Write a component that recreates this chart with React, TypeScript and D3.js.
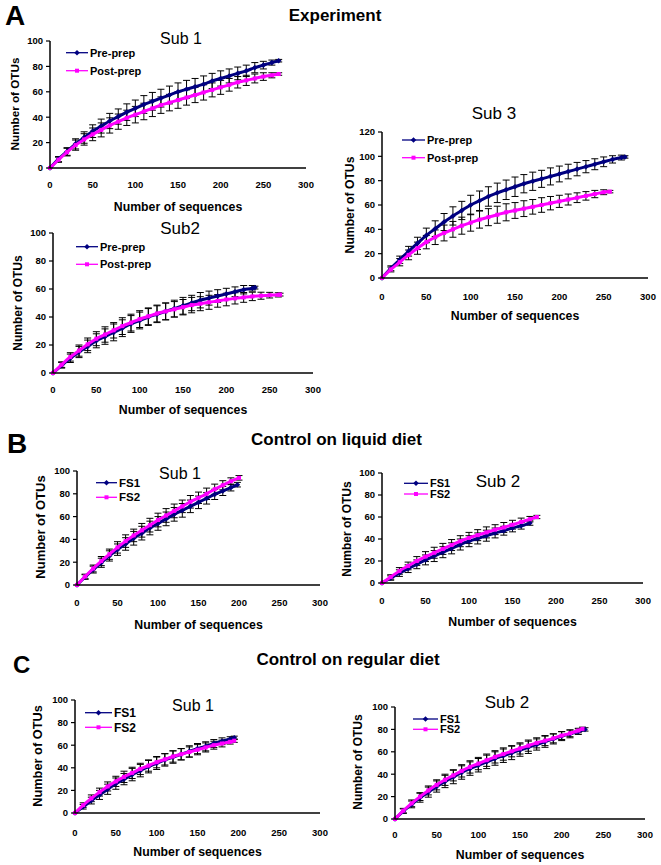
import React from "react";
import * as d3 from "d3";

// ---- shared categories / ticks ----
const seqSteps = [0, 10, 20, 30, 40, 50, 60, 70, 80, 90, 100, 110, 120, 130, 140, 150, 160, 170, 180, 190, 200, 210, 220, 230, 240, 250, 260, 270, 280, 290];
const xTicks = [0, 50, 100, 150, 200, 250, 300];
const yTicks100 = [0, 20, 40, 60, 80, 100];
const yTicks120 = [0, 20, 40, 60, 80, 100, 120];

// ---- A: Experiment ----
const a1PreY = [0, 7, 13, 19, 24, 29, 33, 37, 40.5, 44, 47, 50, 52.5, 55, 57.5, 60, 62, 64, 66, 68.5, 70.5, 72.5, 74.5, 76.5, 79, 81, 83, 84.5];
const a1PreErr = [0, 2, 3, 4, 4.5, 5, 5.5, 6, 6, 6.5, 6.5, 7, 7, 7, 7, 7, 7, 6.5, 6.5, 6, 6, 5.5, 5, 4.5, 4, 3, 2, 1];
const a1PostY = [0, 6.5, 12.5, 18, 22.5, 26.5, 30, 33.5, 36.5, 39.5, 42, 44.5, 47, 49.5, 51.5, 53.5, 55.5, 57.5, 59.5, 61.5, 63.5, 65.5, 67.5, 69, 70.5, 72, 73, 74];
const a1PostErr = [0, 2, 3, 4, 4.5, 5, 5.5, 6, 6, 6, 6.5, 6.5, 6.5, 6.5, 6.5, 6.5, 6, 6, 6, 5.5, 5.5, 5, 4.5, 4, 3.5, 3, 2, 1];
const a1PreEnd = 268;
const a1PostEnd = 268;

const a2PreY = [0, 5.5, 10.5, 15, 19, 23, 26, 29, 32, 35, 37.5, 40, 42, 44, 46, 48, 50, 52, 53.5, 55, 56.5, 58, 59.5, 60.5, 61];
const a2PreErr = [0, 2, 3, 4, 4.5, 5, 5.5, 6, 6, 6, 6, 6, 6, 6, 6, 6, 5.5, 5.5, 5, 4.5, 4, 3.5, 3, 2, 1];
const a2PostY = [0, 6, 11.5, 16, 20.5, 24.5, 27.5, 30.5, 33.5, 36, 38.5, 40.5, 42.5, 44, 45.5, 47, 48.5, 49.5, 50.5, 51.5, 52.5, 53.3, 54, 54.7, 55.2, 55.6, 55.8, 56];
const a2PostErr = [0, 2, 3, 4, 4.5, 5, 5.5, 5.5, 6, 6, 6, 6, 6, 6, 5.5, 5.5, 5.5, 5, 5, 4.5, 4.5, 4, 3.5, 3, 2.5, 2, 1.5, 1];
const a2PreEnd = 233;
const a2PostEnd = 262;

const a3PreY = [0, 8, 15, 22, 28.5, 35, 40.5, 46, 51, 55.5, 60, 63.5, 67, 70, 72.5, 75, 77.5, 79.5, 81.5, 83.5, 85.5, 87.5, 89.5, 91.5, 93.5, 95.5, 97.5, 99, 99.5];
const a3PreErr = [0, 2, 3, 4, 5, 6, 6.5, 7, 7.5, 7.5, 8, 8, 8, 8, 8, 8, 7.5, 7.5, 7, 7, 6.5, 6, 5.5, 5, 4.5, 4, 3, 2, 1];
const a3PostY = [0, 7, 13, 19, 24.5, 29.5, 33.5, 37, 40, 43, 45.5, 48, 50, 52, 54, 55.5, 57, 58.5, 60, 61.5, 63, 64.5, 66, 67.5, 69, 70.5, 71];
const a3PostErr = [0, 2, 3, 4, 5, 5.5, 6, 6.5, 6.5, 7, 7, 7, 7, 7, 7, 6.5, 6.5, 6, 6, 5.5, 5, 4.5, 4, 3.5, 3, 2, 1];
const a3PreEnd = 274;
const a3PostEnd = 257;

// ---- B: Control on liquid diet ----
const b1Fs1Y = [0, 7, 13.5, 19.5, 25.5, 31, 36, 41, 45.5, 50, 54, 58, 62, 65.5, 69, 72.5, 76, 79.5, 82.5, 85.5, 88];
const b1Fs1Err = [0, 2, 3, 4, 4.5, 5, 5.5, 6, 6, 6, 6, 6, 6, 6, 5.5, 5.5, 5, 4.5, 4, 3, 2];
const b1Fs2Y = [0, 7.5, 14.5, 21, 27, 33, 38.5, 43.5, 48, 52.5, 57, 61, 65, 69, 73, 76.5, 80, 84, 87.5, 91, 94];
const b1Fs2Err = [0, 2, 3, 4, 4.5, 5, 5.5, 5.5, 6, 6, 6, 6, 6, 5.5, 5.5, 5, 5, 4.5, 4, 3, 2];
const b1Fs1End = 198;
const b1Fs2End = 200;

const b2Fs1Y = [0, 4.5, 9, 13, 17, 21, 24.5, 28, 31.5, 35, 38, 40.5, 43, 45.5, 47.5, 50, 52, 54.5];
const b2Fs1Err = [0, 2, 3, 3.5, 4, 4.5, 5, 5, 5, 5, 5, 5, 5, 4.5, 4, 3.5, 3, 2];
const b2Fs2Y = [0, 5.5, 11, 15.5, 20, 24, 27.5, 31, 34.5, 38, 41, 43.5, 46, 48.5, 50.5, 53, 55.5, 58, 60];
const b2Fs2Err = [0, 2, 3, 3.5, 4, 4.5, 5, 5, 5, 5, 5, 5, 5, 4.5, 4.5, 4, 3.5, 2.5, 1.5];
const b2Fs1End = 170;
const b2Fs2End = 178;

// ---- C: Control on regular diet ----
const c1Fs1Y = [0, 5.5, 11, 16, 21, 26, 30, 34, 37.5, 41, 44, 47, 49.5, 52, 54.5, 57, 59, 61.5, 63.5, 65.5, 66.5];
const c1Fs1Err = [0, 2, 3, 4, 4.5, 5, 5, 5.5, 5.5, 5.5, 5.5, 5.5, 5.5, 5, 5, 4.5, 4, 3.5, 3, 2, 1.5];
const c1Fs2Y = [0, 7, 13, 18.5, 23.5, 28, 32, 35.5, 39, 42, 45, 47.5, 50, 52, 54, 56, 58, 60, 61.5, 63, 64];
const c1Fs2Err = [0, 2, 3, 3.5, 4, 4.5, 5, 5, 5, 5, 5, 5, 5, 5, 4.5, 4.5, 4, 3.5, 3, 2, 1.5];
const c1Fs1End = 195;
const c1Fs2End = 195;

const c2Fs1Y = [0, 7, 13, 19, 24, 29, 33.5, 37.5, 41.5, 45, 48, 51, 54, 56.5, 59, 61.5, 64, 66.5, 69, 71.5, 74, 76, 78, 80];
const c2Fs1Err = [0, 2, 3, 4, 4.5, 5, 5.5, 6, 6, 6, 6, 6, 6, 6, 6, 5.5, 5.5, 5, 5, 4.5, 4, 3.5, 2.5, 1.5];
const c2Fs2Y = [0, 7.5, 14, 20, 25.5, 30.5, 35, 39, 43, 46.5, 49.5, 52.5, 55.5, 58, 60.5, 63, 65.5, 68, 70, 72, 74.5, 76.5, 79, 80.5];
const c2Fs2Err = [0, 2, 3, 3.5, 4, 4.5, 5, 5, 5.5, 5.5, 5.5, 5.5, 5.5, 5.5, 5, 5, 5, 4.5, 4.5, 4, 3.5, 3, 2, 1.5];
const c2Fs1End = 228;
const c2Fs2End = 225;

const NAVY = "#000080";
const MAGENTA = "#ff00ff";
const FONT = "'Liberation Sans', Arial, sans-serif";

type Series = { ys: number[]; errs: number[]; end: number; kind: "d" | "s"; label: string };

type PanelCfg = {
  left: number; right: number; y0: number; yTop: number; yMax: number; yTicks: number[];
  title: string; titleX: number; titleY: number; titleSize: number;
  yLabX: number; yLabY: number; yLabSize: number;
  xLabY: number; tickY: number;
  legX: number; legW: number; legY1: number; legY2: number; legSize: number;
  series: Series[];
};

function pointsOf(s: Series) {
  return s.ys.map((y, i) => ({ x: i === s.ys.length - 1 ? s.end : seqSteps[i], y, e: s.errs[i] }));
}

function Marker({ kind, cx, cy, color }: { kind: "d" | "s"; cx: number; cy: number; color: string }) {
  if (kind === "d") {
    const r = 2.8;
    return <path d={`M${cx},${cy - r}L${cx + r},${cy}L${cx},${cy + r}L${cx - r},${cy}Z`} fill={color} />;
  }
  const h = 2;
  return <rect x={cx - h} y={cy - h} width={h * 2} height={h * 2} fill={color} />;
}

function Panel({ c }: { c: PanelCfg }) {
  const x = d3.scaleLinear().domain([0, 300]).range([c.left, c.right]);
  const y = d3.scaleLinear().domain([0, c.yMax]).range([c.y0, c.yTop]);
  const line = d3.line<{ x: number; y: number }>().x((d) => x(d.x)).y((d) => y(d.y)).curve(d3.curveMonotoneX);
  const colors = [NAVY, MAGENTA];
  return (
    <g>
      {/* error bars */}
      {c.series.map((s, si) => (
        <g key={"e" + si} stroke="#000" strokeWidth={1}>
          {pointsOf(s).filter((p) => p.e > 0).map((p, i) => {
            const px = x(p.x);
            const t = y(p.y + p.e);
            const b = y(p.y - p.e);
            return (
              <g key={i}>
                <line x1={px} x2={px} y1={t} y2={b} />
                <line x1={px - 3.5} x2={px + 3.5} y1={t} y2={t} />
                <line x1={px - 3.5} x2={px + 3.5} y1={b} y2={b} />
              </g>
            );
          })}
        </g>
      ))}
      {/* lines + markers */}
      {c.series.map((s, si) => {
        const pts = pointsOf(s);
        return (
          <g key={"l" + si}>
            <path d={line(pts) || ""} fill="none" stroke={colors[si]} strokeWidth={3} />
            {pts.map((p, i) => (
              <Marker key={i} kind={s.kind} cx={x(p.x)} cy={y(p.y)} color={colors[si]} />
            ))}
          </g>
        );
      })}
      {/* axes */}
      <line x1={c.left} x2={c.left} y1={c.yTop} y2={c.y0} stroke="#000" strokeWidth={1.5} />
      <line x1={c.left} x2={c.right} y1={c.y0} y2={c.y0} stroke="#000" strokeWidth={1.5} />
      {c.yTicks.map((t) => (
        <g key={t}>
          <line x1={c.left - 4} x2={c.left} y1={y(t)} y2={y(t)} stroke="#000" strokeWidth={1.2} />
          <text x={c.left - 7} y={y(t) + 3.4} textAnchor="end" fontSize={9.5} fontWeight="bold" fontFamily={FONT}>{t}</text>
        </g>
      ))}
      {xTicks.map((t) => (
        <text key={t} x={x(t)} y={c.tickY} textAnchor="middle" fontSize={9.5} fontWeight="bold" fontFamily={FONT}>{t}</text>
      ))}
      <text x={(c.left + c.right) / 2} y={c.xLabY} textAnchor="middle" fontSize={12.3} fontWeight="bold" fontFamily={FONT}>Number of sequences</text>
      <text transform={`translate(${c.yLabX},${c.yLabY}) rotate(-90)`} textAnchor="middle" dy="0.35em" fontSize={c.yLabSize} fontWeight="bold" fontFamily={FONT}>Number of OTUs</text>
      <text x={c.titleX} y={c.titleY} textAnchor="middle" fontSize={c.titleSize} fontFamily={FONT}>{c.title}</text>
      {/* legend */}
      {c.series.map((s, si) => {
        const ly = si === 0 ? c.legY1 : c.legY2;
        return (
          <g key={"g" + si}>
            <line x1={c.legX} x2={c.legX + c.legW} y1={ly} y2={ly} stroke={colors[si]} strokeWidth={1.3} />
            <Marker kind={s.kind} cx={c.legX + c.legW / 2} cy={ly} color={colors[si]} />
            <text x={c.legX + c.legW + 2} y={ly + c.legSize * 0.36} fontSize={c.legSize} fontWeight="bold" fontFamily={FONT}>{s.label}</text>
          </g>
        );
      })}
    </g>
  );
}

const panels: PanelCfg[] = [
  {
    left: 50, right: 306, y0: 168, yTop: 41, yMax: 100, yTicks: yTicks100,
    title: "Sub 1", titleX: 181, titleY: 44, titleSize: 16,
    yLabX: 15, yLabY: 104, yLabSize: 11.7, xLabY: 211, tickY: 188,
    legX: 66, legW: 22, legY1: 52.7, legY2: 70.7, legSize: 11,
    series: [
      { ys: a1PreY, errs: a1PreErr, end: a1PreEnd, kind: "d", label: "Pre-prep" },
      { ys: a1PostY, errs: a1PostErr, end: a1PostEnd, kind: "s", label: "Post-prep" },
    ],
  },
  {
    left: 53, right: 313, y0: 373, yTop: 233, yMax: 100, yTicks: yTicks100,
    title: "Sub2", titleX: 180, titleY: 234, titleSize: 17,
    yLabX: 18, yLabY: 303, yLabSize: 12, xLabY: 414, tickY: 393,
    legX: 76, legW: 22, legY1: 246.7, legY2: 264.3, legSize: 11,
    series: [
      { ys: a2PreY, errs: a2PreErr, end: a2PreEnd, kind: "d", label: "Pre-prep" },
      { ys: a2PostY, errs: a2PostErr, end: a2PostEnd, kind: "s", label: "Post-prep" },
    ],
  },
  {
    left: 382, right: 648, y0: 278, yTop: 132, yMax: 120, yTicks: yTicks120,
    title: "Sub 3", titleX: 494, titleY: 119, titleSize: 17,
    yLabX: 350, yLabY: 205, yLabSize: 12.2, xLabY: 320, tickY: 300,
    legX: 402, legW: 23, legY1: 140, legY2: 157.7, legSize: 11,
    series: [
      { ys: a3PreY, errs: a3PreErr, end: a3PreEnd, kind: "d", label: "Pre-prep" },
      { ys: a3PostY, errs: a3PostErr, end: a3PostEnd, kind: "s", label: "Post-prep" },
    ],
  },
  {
    left: 77, right: 320, y0: 585, yTop: 471, yMax: 100, yTicks: yTicks100,
    title: "Sub 1", titleX: 180, titleY: 479, titleSize: 16,
    yLabX: 40, yLabY: 527, yLabSize: 13, xLabY: 629, tickY: 606,
    legX: 96, legW: 21, legY1: 482.7, legY2: 497.3, legSize: 11.5,
    series: [
      { ys: b1Fs1Y, errs: b1Fs1Err, end: b1Fs1End, kind: "d", label: "FS1" },
      { ys: b1Fs2Y, errs: b1Fs2Err, end: b1Fs2End, kind: "s", label: "FS2" },
    ],
  },
  {
    left: 382, right: 643, y0: 583, yTop: 473, yMax: 100, yTicks: yTicks100,
    title: "Sub 2", titleX: 498, titleY: 487, titleSize: 17,
    yLabX: 347, yLabY: 529, yLabSize: 12, xLabY: 626, tickY: 604,
    legX: 404, legW: 24, legY1: 483.3, legY2: 494, legSize: 11,
    series: [
      { ys: b2Fs1Y, errs: b2Fs1Err, end: b2Fs1End, kind: "d", label: "FS1" },
      { ys: b2Fs2Y, errs: b2Fs2Err, end: b2Fs2End, kind: "s", label: "FS2" },
    ],
  },
  {
    left: 75, right: 320, y0: 813, yTop: 700, yMax: 100, yTicks: yTicks100,
    title: "Sub 1", titleX: 193, titleY: 711, titleSize: 16,
    yLabX: 38, yLabY: 756, yLabSize: 12.8, xLabY: 856, tickY: 836,
    legX: 85, legW: 27, legY1: 712.7, legY2: 727.3, legSize: 12,
    series: [
      { ys: c1Fs1Y, errs: c1Fs1Err, end: c1Fs1End, kind: "d", label: "FS1" },
      { ys: c1Fs2Y, errs: c1Fs2Err, end: c1Fs2End, kind: "s", label: "FS2" },
    ],
  },
  {
    left: 395, right: 645, y0: 819, yTop: 707, yMax: 100, yTicks: yTicks100,
    title: "Sub 2", titleX: 507, titleY: 708, titleSize: 17,
    yLabX: 358, yLabY: 762, yLabSize: 12, xLabY: 859, tickY: 838,
    legX: 413, legW: 25, legY1: 719, legY2: 729.3, legSize: 11,
    series: [
      { ys: c2Fs1Y, errs: c2Fs1Err, end: c2Fs1End, kind: "d", label: "FS1" },
      { ys: c2Fs2Y, errs: c2Fs2Err, end: c2Fs2End, kind: "s", label: "FS2" },
    ],
  },
];

export default function App() {
  return (
    <div style={{ position: "absolute", left: 0, top: 0, width: 661, height: 865, background: "#fff" }}>
      <svg width={661} height={865} style={{ display: "block" }}>
        <rect width={661} height={865} fill="#fff" />
        <text x={5} y={25} fontSize={28} fontWeight="bold" fontFamily={FONT}>A</text>
        <text x={7} y={453} fontSize={28} fontWeight="bold" fontFamily={FONT}>B</text>
        <text x={13} y={673} fontSize={24} fontWeight="bold" fontFamily={FONT}>C</text>
        <text x={335} y={21} textAnchor="middle" fontSize={17} fontWeight="bold" fontFamily={FONT}>Experiment</text>
        <text x={336.5} y={445} textAnchor="middle" fontSize={17} fontWeight="bold" fontFamily={FONT}>Control on liquid diet</text>
        <text x={348} y={664.5} textAnchor="middle" fontSize={17} fontWeight="bold" fontFamily={FONT}>Control on regular diet</text>
        {panels.map((p, i) => (
          <Panel key={i} c={p} />
        ))}
      </svg>
    </div>
  );
}
